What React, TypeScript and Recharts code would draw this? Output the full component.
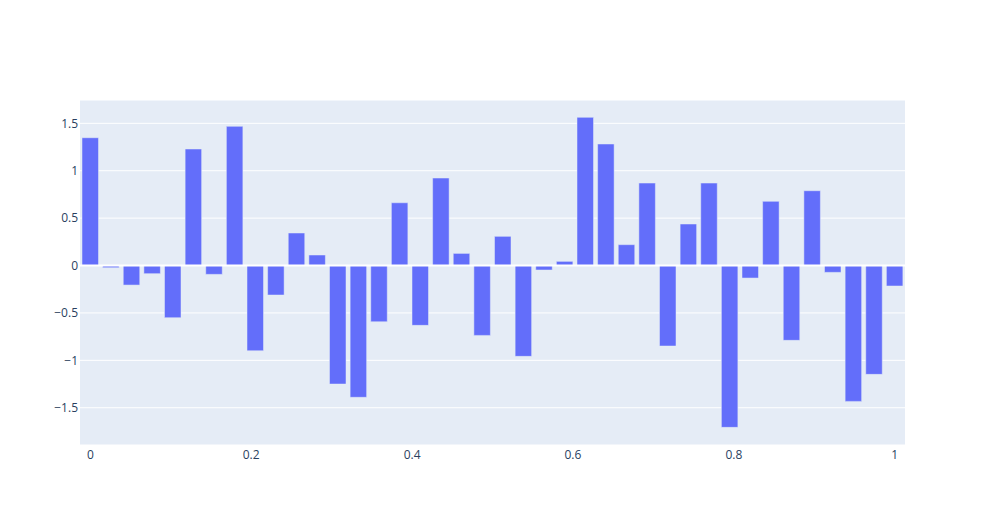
import React from 'react';
import { BarChart, Bar, XAxis, YAxis, CartesianGrid, ReferenceLine } from 'recharts';

const values: number[] = [
  1.348, -0.023, -0.206, -0.086, -0.55, 1.229, -0.093, 1.468, -0.899, -0.311,
  0.343, 0.111, -1.25, -1.39, -0.593, 0.662, -0.631, 0.923, 0.128, -0.737,
  0.308, -0.958, -0.047, 0.044, 1.563, 1.282, 0.22, 0.87, -0.849, 0.438,
  0.87, -1.707, -0.132, 0.677, -0.789, 0.789, -0.072, -1.433, -1.148, -0.216,
];
const xPositions: number[] = values.map((_, i) => i / (values.length - 1));
const xTicks: number[] = [0, 0.2, 0.4, 0.6, 0.8, 1];
const yTicks: number[] = [-1.5, -1, -0.5, 0, 0.5, 1, 1.5];

const data = values.map((v, i) => ({ x: xPositions[i], y: v }));

const fmt = (v: number) => (v < 0 ? '\u2212' + String(Math.abs(v)) : String(v));
const half = 0.5 / (values.length - 1);

const tickStyle = { fontFamily: '"Open Sans", sans-serif', fontSize: 12, fill: '#2a3f5f' };

export default function App() {
  return (
    <div style={{ position: 'absolute', left: 0, top: 0, width: 985, height: 525, background: '#fff' }}>
      <BarChart
        width={985}
        height={525}
        data={data}
        margin={{ top: 100, right: 80, bottom: 0, left: 0 }}
        barGap={0}
      >
        <CartesianGrid vertical={false} stroke="#ffffff" strokeWidth={1} fill="#E5ECF6" />
        <XAxis
          dataKey="x"
          type="number"
          domain={[-half, 1 + half]}
          allowDataOverflow
          ticks={xTicks}
          tickFormatter={fmt}
          axisLine={false}
          tickLine={false}
          tickSize={5}
          tickMargin={0}
          height={80}
          tick={tickStyle}
          interval={0}
        />
        <YAxis
          type="number"
          domain={[-1.893, 1.746]}
          allowDataOverflow
          ticks={yTicks}
          tickFormatter={fmt}
          axisLine={false}
          tickLine={false}
          tickSize={2}
          tickMargin={0}
          width={80}
          tick={tickStyle}
          interval={0}
        />
        <ReferenceLine y={0} stroke="#ffffff" strokeWidth={2} />
        <Bar dataKey="y" barSize={16.5} fill="#636efa" stroke="#E5ECF6" strokeWidth={0.5} isAnimationActive={false} />
      </BarChart>
    </div>
  );
}
